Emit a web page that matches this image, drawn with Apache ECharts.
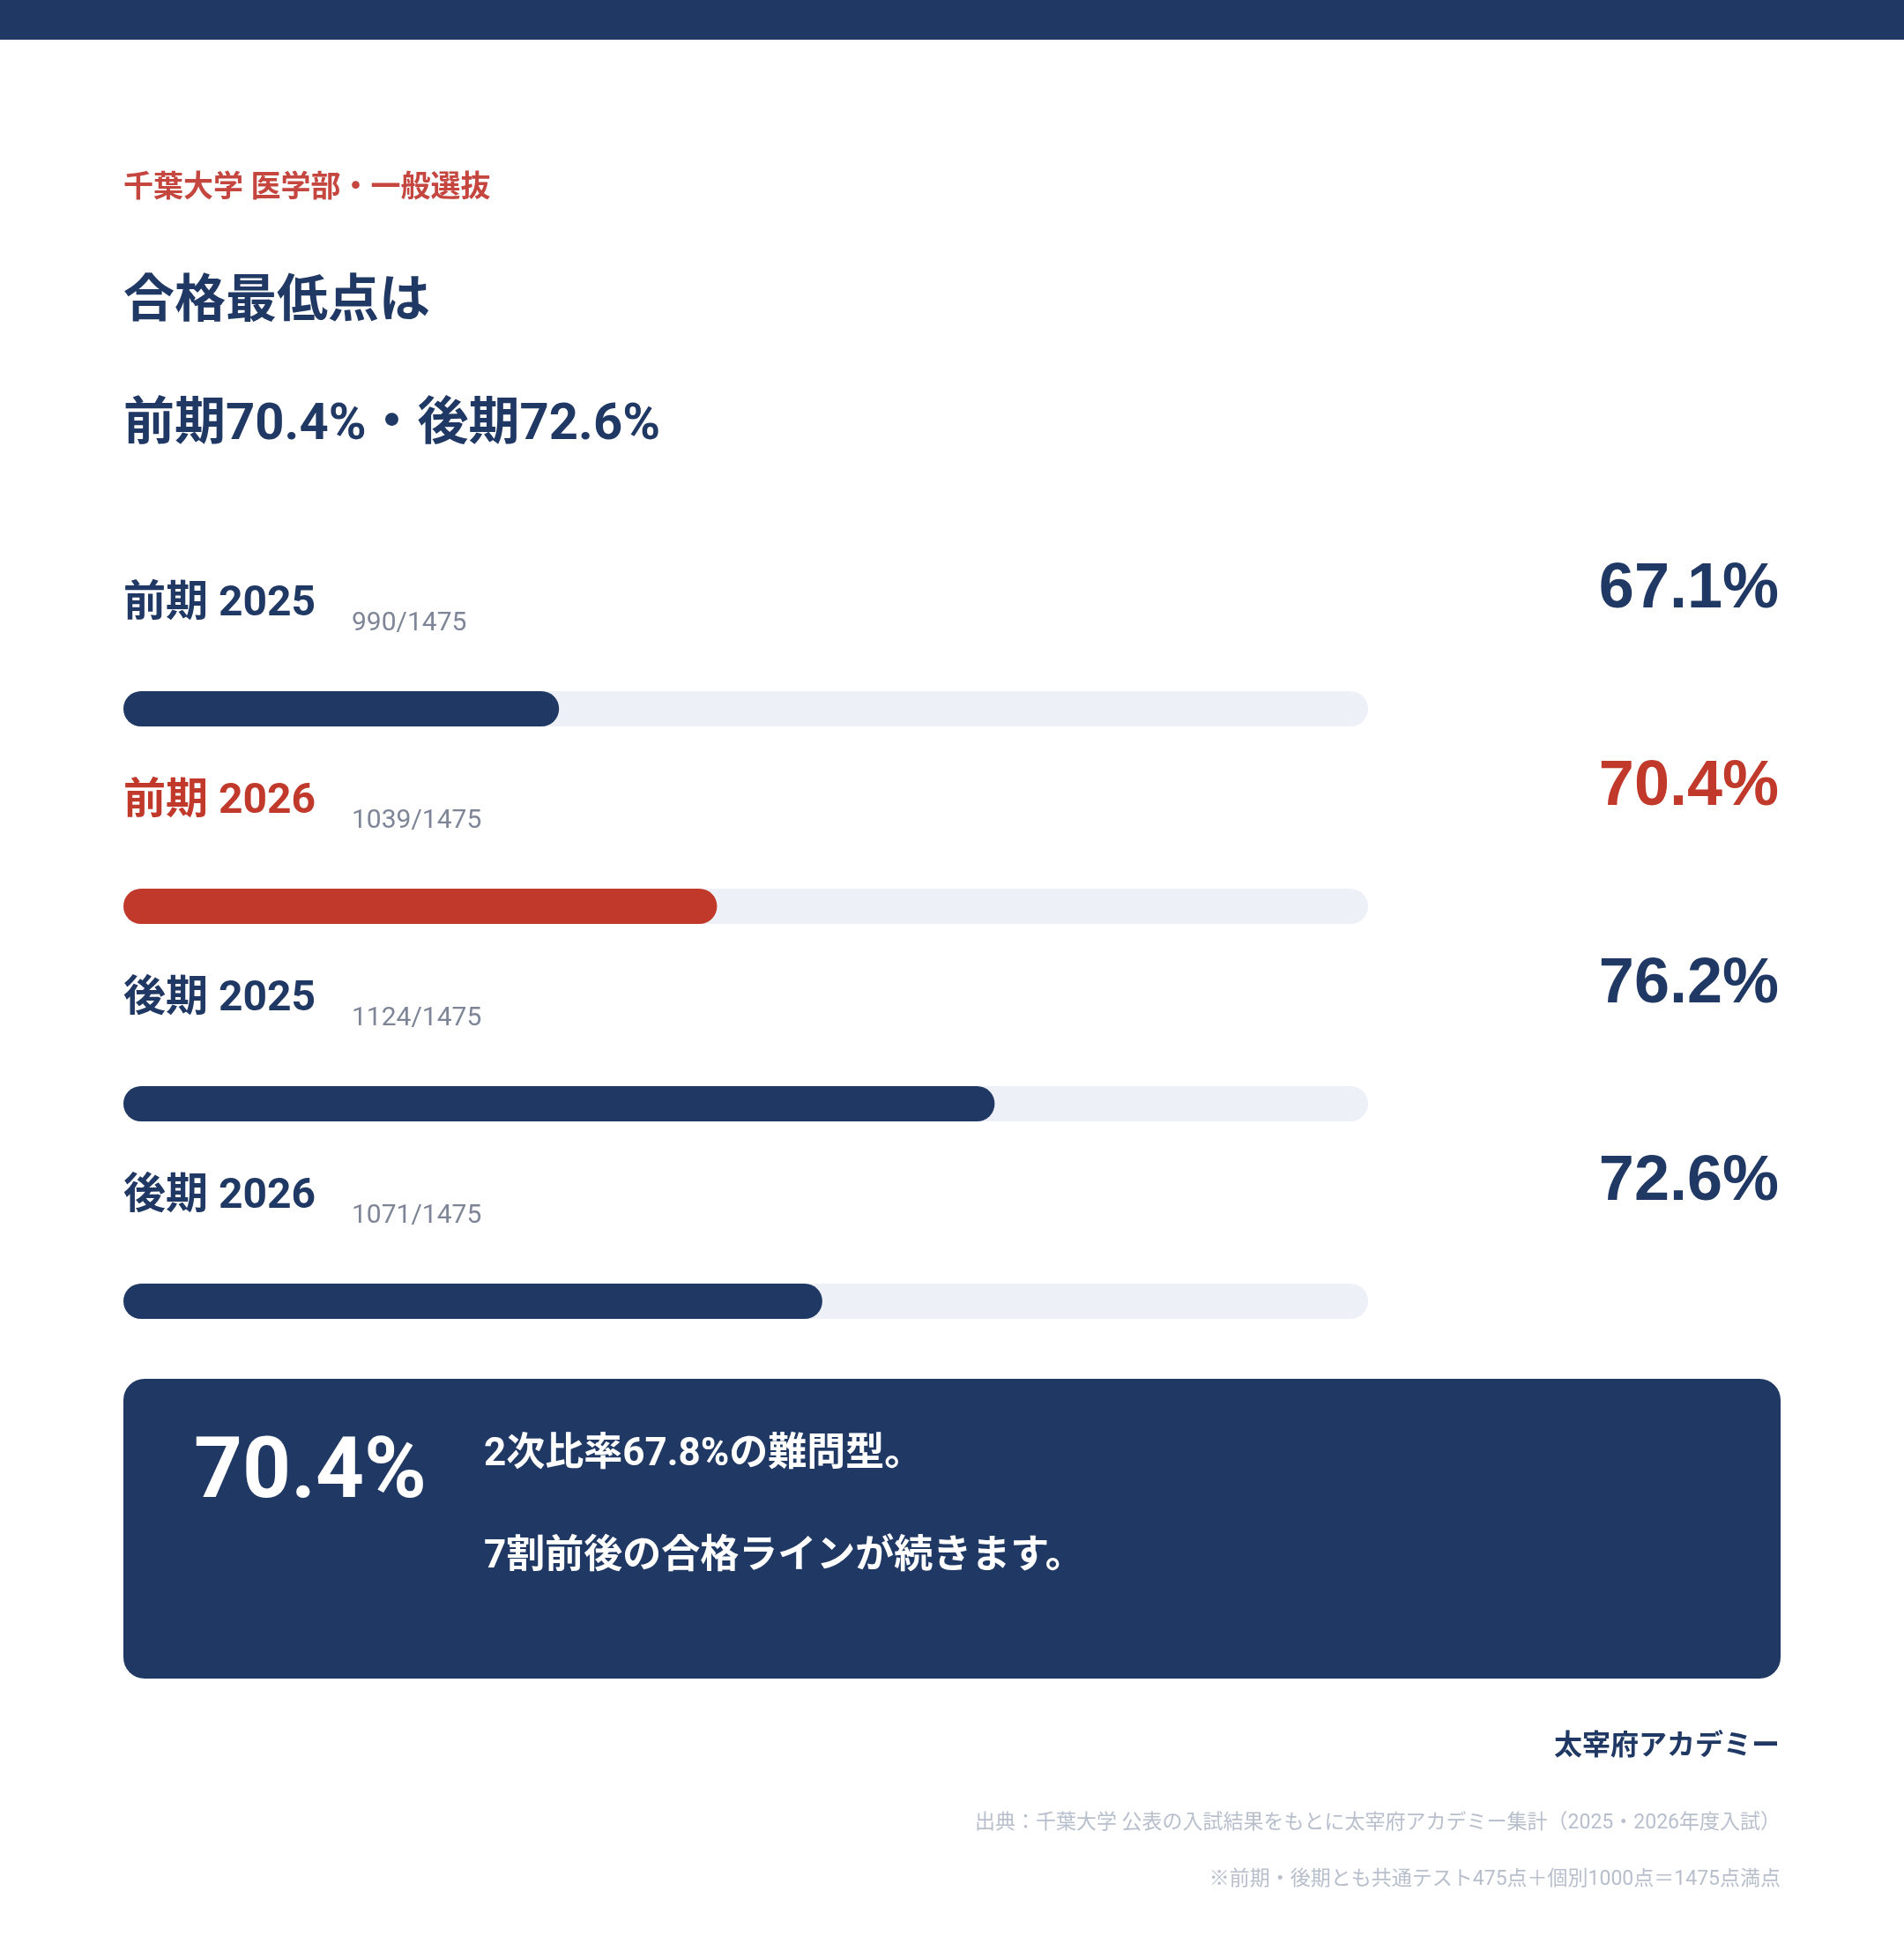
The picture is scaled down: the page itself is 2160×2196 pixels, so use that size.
<!DOCTYPE html>
<html>
<head>
<meta charset="utf-8">
<script src="https://cdn.jsdelivr.net/npm/echarts@6/dist/echarts.min.js"></script>
<style>
  html, body { margin: 0; padding: 0; background: #ffffff; }
  #chart { width: 2160px; height: 2196px; }
</style>
</head>
<body>
<div id="chart"></div>
<script>
// ---- data ----
const categories = ['前期 2025', '前期 2026', '後期 2025', '後期 2026'];
const rates = [67.1, 70.4, 76.2, 72.6];
const scores = [990, 1039, 1124, 1071];
const fullScore = 1475;
const highlightIndex = 1;
const axisMin = 58;
const axisMax = 84;

const subtitleText = '千葉大学 医学部・一般選抜';
const titleText = '合格最低点は';
const noteLines = ['2次比率67.8%の難問型。', '7割前後の合格ラインが続きます。'];
const brandText = '太宰府アカデミー';
const sourceText = '出典：千葉大学 公表の入試結果をもとに太宰府アカデミー集計（2025・2026年度入試）';
const footnoteText = '※前期・後期とも共通テスト475点＋個別1000点＝1475点満点';

// ---- styles ----
const NAVY = '#203864';
const RED = '#C0392B';
const TRACK = '#EDF0F7';
const CJK = "Roboto, 'Noto Sans CJK JP', sans-serif";
const LATIN = "'Liberation Sans', Arial, sans-serif";

const chart = echarts.init(document.getElementById('chart'), null, { renderer: 'canvas' });

const colorFor = i => (i === highlightIndex ? RED : NAVY);

const headline = '前期' + rates[1].toFixed(1) + '%・後期' + rates[3].toFixed(1) + '%';

const option = {
  backgroundColor: '#ffffff',
  animation: false,
  grid: { left: 140, top: 692, width: 1412, height: 896, containLabel: false },
  xAxis: { type: 'value', min: axisMin, max: axisMax, show: false },
  yAxis: { type: 'category', data: categories, inverse: true, show: false },
  series: [
    {
      name: 'rate',
      type: 'bar',
      barWidth: 40,
      barGap: '-100%',
      showBackground: true,
      backgroundStyle: { color: TRACK, borderRadius: 20 },
      data: rates.map((v, i) => ({
        value: v,
        itemStyle: { color: colorFor(i), borderRadius: 20 },
        label: { color: colorFor(i) }
      })),
      label: {
        show: true,
        position: [0, -98],
        align: 'left',
        verticalAlign: 'middle',
        formatter: p => categories[p.dataIndex],
        fontFamily: CJK,
        fontWeight: 'bold',
        fontSize: 48
      },
      z: 2
    },
    {
      name: 'score',
      type: 'bar',
      barWidth: 40,
      barGap: '-100%',
      silent: true,
      itemStyle: { color: 'rgba(0,0,0,0)' },
      data: rates,
      label: {
        show: true,
        position: [259, -77],
        align: 'left',
        verticalAlign: 'middle',
        formatter: p => scores[p.dataIndex] + '/' + fullScore,
        fontFamily: CJK,
        fontSize: 30,
        color: '#7D8597'
      },
      z: 1
    },
    {
      name: 'pct',
      type: 'bar',
      barWidth: 40,
      barGap: '-100%',
      silent: true,
      itemStyle: { color: 'rgba(0,0,0,0)' },
      data: rates.map((v, i) => ({ value: v, label: { color: colorFor(i) } })),
      label: {
        show: true,
        position: [1878, -115],
        align: 'right',
        verticalAlign: 'middle',
        formatter: p => rates[p.dataIndex].toFixed(1) + '%',
        fontFamily: LATIN,
        fontWeight: 'bold',
        fontSize: 72
      },
      z: 1
    }
  ],
  graphic: [
    { type: 'rect', shape: { x: 0, y: 0, width: 2160, height: 45 }, style: { fill: NAVY } },
    { type: 'text', x: 140, y: 214, style: { text: subtitleText, fontFamily: CJK, fontWeight: 'bold', fontSize: 34, fill: '#C4463F', textAlign: 'left', textVerticalAlign: 'middle' } },
    { type: 'text', x: 140, y: 344, style: { text: titleText, fontFamily: CJK, fontWeight: 'bold', fontSize: 58, fill: NAVY, textAlign: 'left', textVerticalAlign: 'middle' } },
    { type: 'text', x: 140, y: 483, style: { text: headline, fontFamily: CJK, fontWeight: 'bold', fontSize: 58, fill: NAVY, textAlign: 'left', textVerticalAlign: 'middle' } },
    { type: 'rect', shape: { x: 140, y: 1564, width: 1880, height: 340, r: 24 }, style: { fill: NAVY } },
    { type: 'text', x: 220, y: 1674, style: { text: rates[highlightIndex].toFixed(1) + '%', fontFamily: CJK, fontWeight: 'bold', fontSize: 96, fill: '#ffffff', textAlign: 'left', textVerticalAlign: 'middle' } },
    { type: 'text', x: 549, y: 1651, style: { text: noteLines[0], fontFamily: CJK, fontWeight: 'bold', fontSize: 44, fill: '#ffffff', textAlign: 'left', textVerticalAlign: 'middle' } },
    { type: 'text', x: 549, y: 1767, style: { text: noteLines[1], fontFamily: CJK, fontWeight: 'bold', fontSize: 44, fill: '#ffffff', textAlign: 'left', textVerticalAlign: 'middle' } },
    { type: 'text', x: 2019, y: 1982, style: { text: brandText, fontFamily: CJK, fontWeight: 'bold', fontSize: 32, fill: NAVY, textAlign: 'right', textVerticalAlign: 'middle' } },
    { type: 'text', x: 2020, y: 2068, style: { text: sourceText, fontFamily: CJK, fontSize: 23, fill: '#B8BFCC', textAlign: 'right', textVerticalAlign: 'middle' } },
    { type: 'text', x: 2020, y: 2132, style: { text: footnoteText, fontFamily: CJK, fontSize: 23, fill: '#B8BFCC', textAlign: 'right', textVerticalAlign: 'middle' } }
  ]
};

chart.setOption(option);
</script>
</body>
</html>
